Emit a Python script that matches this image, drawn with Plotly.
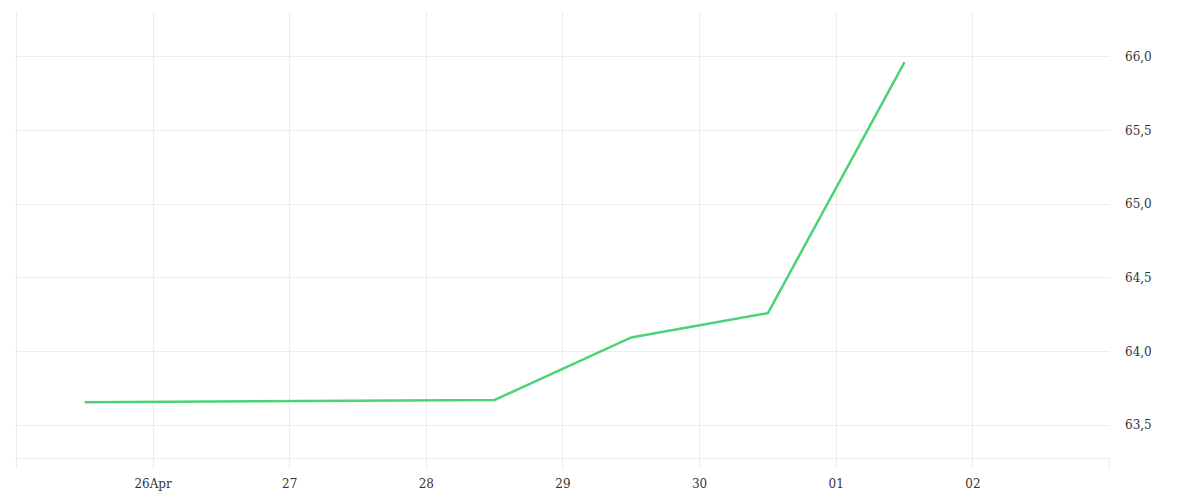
import plotly.graph_objects as go

dates = ["2024-04-25 12:00", "2024-04-26 12:00", "2024-04-27 12:00", "2024-04-28 12:00",
         "2024-04-29 12:00", "2024-04-30 12:00", "2024-05-01 12:00"]
values = [63.655, 63.66, 63.665, 63.67, 64.095, 64.26, 65.965]

tick_dates = ["2024-04-25", "2024-04-26", "2024-04-27", "2024-04-28", "2024-04-29",
              "2024-04-30", "2024-05-01", "2024-05-02", "2024-05-03"]
tick_text = ["", "26Apr", "27", "28", "29", "30", "01", "02", ""]
y_ticks = [63.5, 64.0, 64.5, 65.0, 65.5, 66.0]

grid = "#ececec"
fig = go.Figure(go.Scatter(x=dates, y=values, mode="lines",
                           line=dict(color="#4cd377", width=2.5)))
fig.update_layout(
    width=1200, height=500,
    margin=dict(l=7, r=84, t=4, b=50),
    plot_bgcolor="white", paper_bgcolor="white",
    separators=", ",
    showlegend=False,
    font=dict(family="DejaVu Serif", size=12, color="#333"),
)
fig.update_xaxes(
    domain=[0, 1095 / 1109],
    range=["2024-04-24 23:45", "2024-05-03 00:05"],
    tickvals=tick_dates, ticktext=tick_text,
    showgrid=True, gridcolor=grid, gridwidth=1,
    ticks="outside", ticklen=10, tickcolor=grid,
    ticklabelstandoff=5,
    showline=True, linecolor=grid, linewidth=1,
    zeroline=False,
)
fig.update_yaxes(
    side="right", anchor="free", position=1,
    range=[63.276, 66.305],
    tickvals=y_ticks, tickformat=".1f",
    showgrid=True, gridcolor=grid, gridwidth=1,
    ticks="",
    showline=False, zeroline=False,
)
fig.write_html("out.html")
